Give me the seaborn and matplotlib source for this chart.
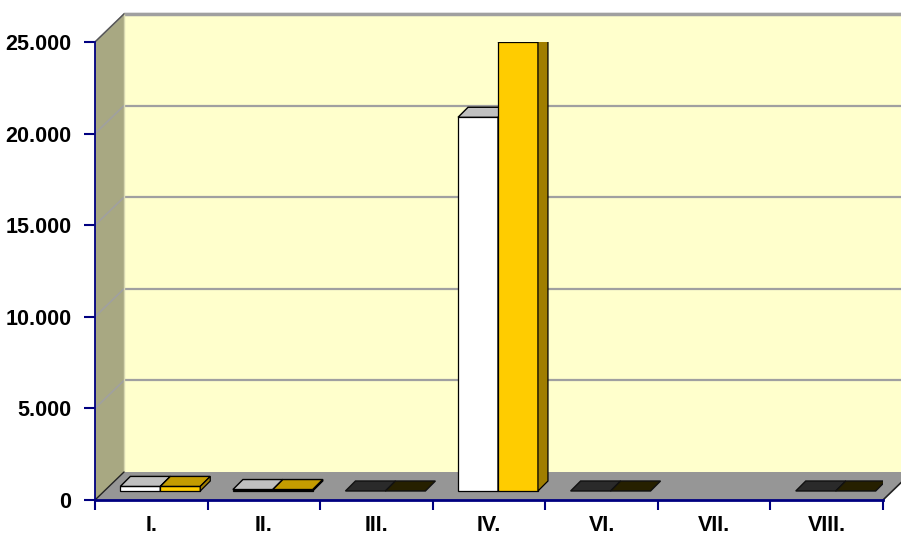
import numpy as np
import pandas as pd
import matplotlib
matplotlib.use("Agg")
import matplotlib.pyplot as plt
import seaborn as sns
from matplotlib.patches import Polygon, Rectangle
from matplotlib.transforms import Affine2D

# ---------------- data ----------------
categories = ["I.", "II.", "III.", "IV.", "VI.", "VII.", "VIII."]
series_a = [250, 80, 0, 20400, 0, np.nan, 0]      # white series
series_b = [250, 80, 0, 24500, 0, np.nan, 0]      # gold series
series_names = ["A", "B"]
y_ticks = [0, 5000, 10000, 15000, 20000, 25000]
y_tick_labels = ["0", "5.000", "10.000", "15.000", "20.000", "25.000"]

df = pd.DataFrame({
    "cat": categories * 2,
    "value": series_a + series_b,
    "series": [series_names[0]] * len(categories) + [series_names[1]] * len(categories),
})

# ---------------- styles ----------------
sns.set_theme(style="white")
plt.rcParams["font.family"] = ["Liberation Sans", "DejaVu Sans"]

W, H = 901, 537
fig = plt.figure(figsize=(W / 100, H / 100), dpi=100)
ax_l, ax_b, ax_w, ax_h = 95, 37, 788, 458
ax = fig.add_axes([ax_l / W, ax_b / H, ax_w / W, ax_h / H])
n = len(categories)

ux = n / ax_w                    # data units per pixel (x)
uy = 25000 / ax_h                # data units per pixel (y)
DX, DY = 29 * ux, 28 * uy        # wall depth
x0, x1 = -0.5, n - 0.5

navy = "#000080"
wall_col = "#FFFFCC"
side_col = "#A8A882"
floor_col = "#969696"
grid_col = "#A0A0A0"

# ---------------- bars ----------------
n_before = len(ax.patches)
sns.barplot(data=df, x="cat", y="value", hue="series", order=categories,
            hue_order=series_names, palette=["#FFFFFF", "#FFCC00"], width=0.71,
            edgecolor="black", linewidth=0.9, saturation=1, legend=False, ax=ax)
bar_patches = [p for p in ax.patches[n_before:] if isinstance(p, Rectangle)]

ax.set_xlim(x0, x1)
ax.set_ylim(0, 25000)
ax.patch.set_alpha(0)

# back wall
ax.add_patch(Polygon([(x0 + DX, DY), (x1 + DX + 1, DY), (x1 + DX + 1, 25000 + DY),
                      (x0 + DX, 25000 + DY)], closed=True, facecolor=wall_col,
                     edgecolor="none", clip_on=False, zorder=0))
# side wall
ax.add_patch(Polygon([(x0, 0), (x0 + DX, DY), (x0 + DX, 25000 + DY), (x0, 25000)],
                     closed=True, facecolor=side_col, edgecolor="none",
                     clip_on=False, zorder=0.5))
# gridlines on back wall and side wall
for yt in y_ticks[1:]:
    ax.plot([x0 + DX, x1 + DX + 1], [yt + DY, yt + DY], color=grid_col, lw=1.6,
            clip_on=False, zorder=1, solid_capstyle="butt")
    ax.plot([x0, x0 + DX], [yt, yt + DY], color=grid_col, lw=1.2,
            clip_on=False, zorder=1)
ax.plot([x0 + DX, x1 + DX + 1], [25000 + DY, 25000 + DY], color=grid_col, lw=2.5,
        clip_on=False, zorder=1)
ax.plot([x0 + DX, x0 + DX], [DY, 25000 + DY], color="#D8D8B0", lw=1.0,
        clip_on=False, zorder=1)
ax.plot([x0, x0 + DX], [25000, 25000 + DY], color="#555555", lw=1.0,
        clip_on=False, zorder=1)
# floor
ax.add_patch(Polygon([(x0, 0), (x1, 0), (x1 + DX, DY), (x0 + DX, DY)], closed=True,
                     facecolor=floor_col, edgecolor="none", clip_on=False, zorder=1.5))
ax.plot([x0, x0 + DX], [0, DY], color="#222222", lw=1.0, clip_on=False, zorder=1.6)
ax.plot([x1, x1 + DX], [0, DY], color="#222222", lw=1.2, clip_on=False, zorder=1.6)

off_x, off_y = 9 * ux, 9 * uy       # bar front plane offset
bdx, bdy = 10 * ux, 10 * uy         # bar depth
shift = Affine2D().translate(off_x, off_y) + ax.transData

top_cols = {0: "#C0C0C0", 1: "#C49C00"}
side_cols = {0: "#A0A0A0", 1: "#A07E00"}
zero_cols = {0: "#2A2A2A", 1: "#262000"}

for p in bar_patches:
    xl, w, h = p.get_x(), p.get_width(), p.get_height()
    cx = xl + w / 2
    ci = int(round(cx))
    s = 0 if cx < ci else 1
    if h is None or np.isnan(h):
        p.set_visible(False)
        continue
    z = 3 + ci * 2 + s * 1.0
    p.set_transform(shift)
    p.set_zorder(z)
    if h <= 0:
        p.set_visible(False)
        tc = zero_cols[s]
        ec = "#111111"
    else:
        tc = top_cols[s]
        ec = "black"
    top = Polygon([(xl, h), (xl + w, h), (xl + w + bdx, h + bdy), (xl + bdx, h + bdy)],
                  closed=True, facecolor=tc, edgecolor=ec, lw=1.0,
                  transform=shift, zorder=z + 0.1)
    ax.add_patch(top)
    if h > 0:
        side = Polygon([(xl + w, 0), (xl + w + bdx, bdy), (xl + w + bdx, h + bdy),
                        (xl + w, h)], closed=True, facecolor=side_cols[s],
                       edgecolor="black", lw=0.9, transform=shift, zorder=z + 0.2)
        ax.add_patch(side)

# ---------------- axes ----------------
for sp in ["top", "right"]:
    ax.spines[sp].set_visible(False)
ax.spines["left"].set_color(navy)
ax.spines["bottom"].set_color(navy)
ax.spines["left"].set_linewidth(1.3)
ax.spines["bottom"].set_linewidth(2.0)
ax.spines["left"].set_zorder(20)
ax.spines["bottom"].set_zorder(20)

ax.set_yticks(y_ticks)
ax.set_yticklabels(y_tick_labels)
ax.set_xticks(np.arange(n + 1) - 0.5, minor=True)
ax.set_xticks(np.arange(n))
ax.set_xticklabels(categories)
ax.tick_params(axis="x", which="major", bottom=True, length=0, pad=11)
ax.tick_params(axis="x", which="minor", bottom=True, length=7, width=1.5, color=navy,
               direction="out")
ax.tick_params(axis="y", left=True, length=8, width=1.5, color=navy, direction="out",
               pad=9)
for lab in ax.get_xticklabels() + ax.get_yticklabels():
    lab.set_fontweight("bold")
    lab.set_fontsize(15.5)
    lab.set_color("black")
ax.set_xlabel("")
ax.set_ylabel("")
ax.grid(False)

fig.savefig("out.png", dpi=100, facecolor="white")
